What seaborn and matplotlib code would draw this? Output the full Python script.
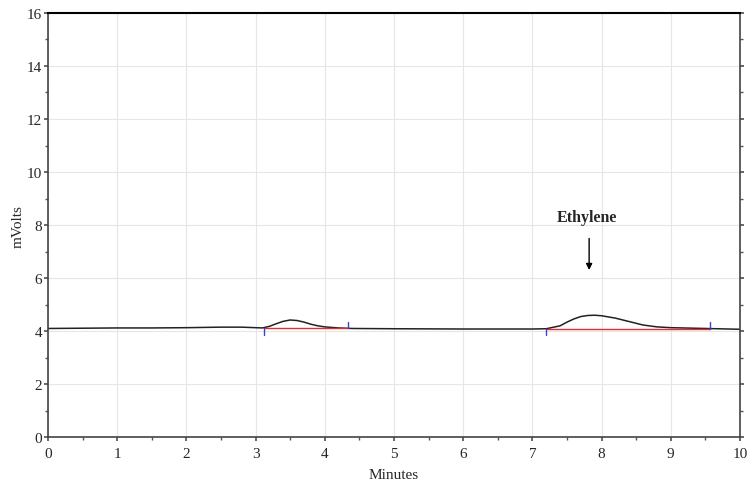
import numpy as np
import matplotlib
matplotlib.use("Agg")
import matplotlib.pyplot as plt
import seaborn as sns
from matplotlib.ticker import MultipleLocator

# chromatogram trace (minutes, mVolts)
minutes = [0.0, 0.5, 1.0, 1.5, 2.0, 2.5, 2.8, 3.0, 3.1, 3.2, 3.3, 3.4, 3.5,
           3.6, 3.7, 3.8, 3.9, 4.0, 4.2, 4.4, 5.0, 6.0, 7.0, 7.2, 7.4, 7.5,
           7.6, 7.7, 7.8, 7.9, 8.0, 8.2, 8.4, 8.6, 8.8, 9.0, 9.5, 10.0]
mvolts = [4.10, 4.11, 4.12, 4.12, 4.13, 4.15, 4.15, 4.13, 4.12, 4.18, 4.28,
          4.37, 4.42, 4.40, 4.34, 4.26, 4.20, 4.16, 4.12, 4.10, 4.09, 4.08,
          4.08, 4.09, 4.20, 4.34, 4.46, 4.55, 4.59, 4.60, 4.58, 4.49, 4.36,
          4.23, 4.16, 4.13, 4.10, 4.07]

# integration baselines (start, end) and their levels
base_start = [3.12, 7.20]
base_end = [4.34, 9.56]
base_level = [4.10, 4.09]

peak_name = "Ethylene"
peak_time = 7.82

sns.set_theme(style="white")
plt.rcParams['font.family'] = ['Liberation Serif', 'DejaVu Serif']

fig, ax = plt.subplots(figsize=(7.49, 4.81), dpi=100)
fig.subplots_adjust(left=0.064, right=0.988, top=0.971, bottom=0.089)

sns.lineplot(x=minutes, y=mvolts, ax=ax, color="#222222", linewidth=1.1)

for s, e, lv in zip(base_start, base_end, base_level):
    ax.plot([s, e], [lv, lv], color="#e03030", linewidth=1.0)
    # peak start / end markers
    ax.plot([s, s], [lv - 0.25, lv], color="#4040d0", linewidth=1.0)
    ax.plot([e, e], [lv, lv + 0.25], color="#4040d0", linewidth=1.0)

ax.annotate("", xy=(peak_time, 6.2), xytext=(peak_time, 7.6),
            arrowprops=dict(arrowstyle="-|>", color="black", lw=1.0,
                            mutation_scale=9))
ax.text(peak_time - 0.03, 8.3, peak_name, ha="center", va="center",
        fontsize=11.5, fontweight="bold")

ax.set_xlim(0, 10)
ax.set_ylim(0, 16)
ax.xaxis.set_major_locator(MultipleLocator(1))
ax.yaxis.set_major_locator(MultipleLocator(2))
ax.yaxis.set_minor_locator(MultipleLocator(1))
ax.xaxis.set_minor_locator(MultipleLocator(0.5))
ax.grid(True, which="major", color="#e6e6e6", linewidth=0.8)

ax.set_xlabel("Minutes", fontsize=11, labelpad=6)
ax.set_ylabel("mVolts", fontsize=11, labelpad=2)
ax.tick_params(axis="both", which="major", labelsize=11, length=3,
               direction="out", color="#555555")
ax.tick_params(axis="x", which="major", pad=4)
ax.tick_params(axis="y", which="major", pad=1)
ax.tick_params(axis="both", which="minor", length=2, direction="out",
               color="#555555")
ax.tick_params(axis="y", which="both", right=True, left=True)
ax.tick_params(axis="x", which="both", bottom=True)

for side in ["left", "bottom", "right"]:
    ax.spines[side].set_color("#444444")
    ax.spines[side].set_linewidth(1.2)
ax.spines["top"].set_color("black")
ax.spines["top"].set_linewidth(1.5)

fig.savefig("out.png", dpi=100)
